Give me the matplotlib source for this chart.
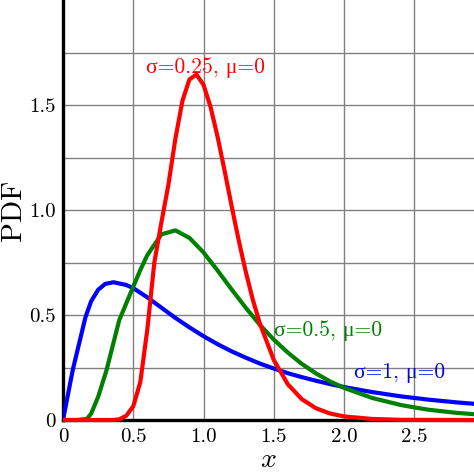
import matplotlib
matplotlib.use("Agg")
import matplotlib.pyplot as plt
from matplotlib.patches import Rectangle

plt.rcParams['mathtext.fontset'] = 'cm'
plt.rcParams['font.family'] = ['cmr10', 'Liberation Serif', 'DejaVu Serif']

# values (log-normal densities, mu = 0)
x_blue = [0, 0.07, 0.16, 0.2, 0.25, 0.3, 0.36, 0.45, 0.5, 0.6, 0.7, 0.8, 0.9, 1.0,
          1.1, 1.2, 1.3, 1.4, 1.5, 1.6, 1.7, 1.8, 1.9, 2.0, 2.2, 2.4, 2.5, 2.6,
          2.8, 3.0]
y_blue = [0, 0.24, 0.49, 0.565, 0.62, 0.648, 0.656, 0.643, 0.628, 0.584, 0.535,
          0.486, 0.441, 0.399, 0.361, 0.327, 0.297, 0.269, 0.245, 0.223, 0.204,
          0.187, 0.171, 0.157, 0.133, 0.113, 0.105, 0.097, 0.084, 0.073]

x_green = [0, 0.1, 0.17, 0.2, 0.25, 0.31, 0.4, 0.5, 0.55, 0.6, 0.7, 0.8, 0.9, 1.0,
           1.1, 1.2, 1.3, 1.4, 1.5, 1.6, 1.7, 1.8, 1.9, 2.0, 2.2, 2.4, 2.5, 2.6,
           2.8, 3.0]
y_green = [0, 0, 0.005, 0.03, 0.11, 0.238, 0.475, 0.635, 0.714, 0.785, 0.884,
           0.903, 0.867, 0.798, 0.712, 0.622, 0.535, 0.454, 0.383, 0.321, 0.267,
           0.222, 0.184, 0.153, 0.105, 0.072, 0.060, 0.049, 0.034, 0.024]

x_red = [0, 0.35, 0.4, 0.45, 0.5, 0.55, 0.6, 0.65, 0.7, 0.75, 0.8, 0.85, 0.9, 0.95,
         1.0, 1.05, 1.1, 1.15, 1.2, 1.25, 1.3, 1.35, 1.4, 1.5, 1.6, 1.7, 1.8, 1.9,
         2.0, 2.2, 2.4, 2.6, 3.0]
y_red = [0, 0, 0.003, 0.02, 0.065, 0.18, 0.43, 0.75, 0.94, 1.12, 1.340, 1.520,
         1.622, 1.645, 1.596, 1.491, 1.349, 1.187, 1.019, 0.857, 0.708, 0.575,
         0.461, 0.286, 0.170, 0.099, 0.056, 0.031, 0.017, 0.005, 0.001, 0.0004, 0]

labels = ['σ=0.25, μ=0', 'σ=0.5, μ=0', 'σ=1, μ=0']
label_pos = [(0.59, 1.68), (1.50, 0.424), (2.07, 0.224)]
colors = ['#ff0000', '#008000', '#0000ff']

x_ticks = [0, 0.5, 1.0, 1.5, 2.0, 2.5]
x_ticklabels = ['0', '0.5', '1.0', '1.5', '2.0', '2.5']
y_ticks = [0, 0.5, 1.0, 1.5]
y_ticklabels = ['0', '0.5', '1.0', '1.5']

fig = plt.figure(figsize=(4.74, 4.74), dpi=100)
ax = fig.add_axes([63 / 474, 54 / 474, 411 / 474, 420 / 474])

ax.set_xlim(0, 2.925)
ax.set_ylim(0, 2.0)

# grid: vertical every 0.5, horizontal every 0.25
for gx in [0.5, 1.0, 1.5, 2.0, 2.5]:
    ax.axvline(gx, color='#808080', lw=1.0, zorder=1)
for gy in [0.25, 0.5, 0.75, 1.0, 1.25, 1.5, 1.75]:
    ax.axhline(gy, color='#808080', lw=1.0, zorder=1)

clip = Rectangle((0, -0.05), 1, 1.1, transform=ax.transAxes, visible=False)
ax.add_patch(clip)
for xs, ys, c in [(x_blue, y_blue, colors[2]), (x_green, y_green, colors[1]),
                  (x_red, y_red, colors[0])]:
    line, = ax.plot(xs, ys, color=c, lw=3.0, zorder=4, solid_joinstyle='round')
    line.set_clip_path(clip)

for txt, (tx, ty), c in zip(labels, label_pos, colors):
    ax.text(tx, ty, txt, color=c, fontsize=15.5, ha='left', va='center')

for side in ['top', 'right']:
    ax.spines[side].set_visible(False)
for side in ['left', 'bottom']:
    ax.spines[side].set_linewidth(2.4)
    ax.spines[side].set_zorder(3)

ax.set_xticks(x_ticks)
ax.set_xticklabels(x_ticklabels, fontsize=15)
ax.set_yticks(y_ticks)
ax.set_yticklabels(y_ticklabels, fontsize=15)
ax.tick_params(length=0)
ax.tick_params(axis='x', pad=6)
ax.tick_params(axis='y', pad=5)

ax.set_xlabel(r'$x$', fontsize=20, labelpad=0)
ax.set_ylabel('PDF', fontsize=21, labelpad=2)

fig.savefig('out.png', dpi=100)
